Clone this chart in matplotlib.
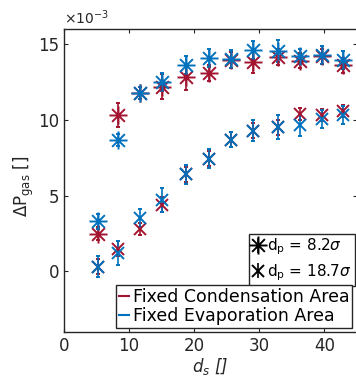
import matplotlib
matplotlib.use("Agg")
import matplotlib.pyplot as plt
import numpy as np
from matplotlib.path import Path
from matplotlib.lines import Line2D

plt.rcParams['font.family'] = ['DejaVu Sans']

# data (values in units of 1e-3)
ds = [5.2, 8.3, 11.7, 15.1, 18.8, 22.3, 25.7, 29.1, 32.8, 36.2, 39.7, 42.9]

cond_small = [2.5, 10.3, 11.8, 12.2, 12.8, 13.1, 13.95, 13.8, 14.15, 13.9, 14.2, 13.6]
cond_small_err = [0.4, 0.8, 0.4, 0.8, 0.8, 0.5, 0.5, 0.7, 0.5, 0.5, 0.5, 0.5]
evap_small = [3.3, 8.7, 11.8, 12.5, 13.6, 14.1, 14.0, 14.6, 14.55, 14.2, 14.3, 13.95]
evap_small_err = [0.5, 0.4, 0.4, 0.6, 0.6, 0.6, 0.6, 0.6, 0.7, 0.5, 0.6, 0.6]

cond_large = [0.3, 1.5, 2.8, 4.4, 6.4, 7.45, 8.7, 9.3, 9.5, 10.4, 10.3, 10.6]
cond_large_err = [0.5, 0.5, 0.4, 0.5, 0.5, 0.5, 0.5, 0.5, 0.5, 0.4, 0.4, 0.4]
evap_large = [0.3, 1.2, 3.5, 4.7, 6.4, 7.45, 8.7, 9.3, 9.55, 9.65, 10.05, 10.3]
evap_large_err = [0.7, 0.8, 0.6, 0.8, 0.6, 0.6, 0.5, 0.7, 0.8, 0.7, 0.6, 0.6]

red = '#A2142F'
blue = '#0072BD'

# MATLAB-like asterisk marker
ast = Path([(-1, 0), (1, 0), (0, -1), (0, 1),
            (-0.707, -0.707), (0.707, 0.707), (-0.707, 0.707), (0.707, -0.707)],
           [Path.MOVETO, Path.LINETO] * 4)

fig = plt.figure(figsize=(3.56, 3.81), dpi=100)
ax = fig.add_axes([64/356, 1-332/381, (357-64)/356, (332-29)/381])

kw = dict(linestyle='none', capsize=1.5, elinewidth=1.2, markeredgewidth=1.4,
          markerfacecolor='none')
ax.errorbar(ds, cond_small, yerr=cond_small_err, marker=ast, markersize=13, color=red, **kw)
ax.errorbar(ds, cond_large, yerr=cond_large_err, marker='x', markersize=9, color=red, **kw)
ax.errorbar(ds, evap_small, yerr=evap_small_err, marker=ast, markersize=13, color=blue, **kw)
ax.errorbar(ds, evap_large, yerr=evap_large_err, marker='x', markersize=9, color=blue, **kw)

ax.set_xlim(0, 45)
ax.set_ylim(-4, 16)
ax.set_xticks([0, 10, 20, 30, 40])
ax.set_yticks([0, 5, 10, 15])
ax.tick_params(direction='in', top=True, right=True, labelsize=12, length=3,
               color='#262626', labelcolor='#262626', width=0.8)
for s in ax.spines.values():
    s.set_color('#262626')
    s.set_linewidth(1.0)

ax.set_xlabel(r'$d_s$ []', fontsize=12, style='italic', color='#262626', labelpad=1)
ax.set_ylabel(r'ΔP$_{\rm gas}$ []', fontsize=12, color='#262626')
ax.yaxis.set_label_coords(-0.095, 0.48)
ax.text(0.0, 1.005, r'$\times10^{-3}$', transform=ax.transAxes, fontsize=10,
        color='#262626', ha='left', va='bottom')

# legend 1: marker types
h1 = ax.errorbar([], [], yerr=[], marker=ast, markersize=13, color='k', **kw)
h2 = ax.errorbar([], [], yerr=[], marker='x', markersize=9, color='k', **kw)
leg1 = ax.legend([h1, h2], [r'd$_{\rm p}$ = 8.2$\sigma$', r'd$_{\rm p}$ = 18.7$\sigma$'],
                 loc='upper right', bbox_to_anchor=(0.993, 0.324), fontsize=11,
                 frameon=True, fancybox=False, edgecolor='#262626', framealpha=1,
                 handlelength=0.8, handletextpad=0.2, borderpad=0.2,
                 labelspacing=0.3, borderaxespad=0)
leg1.get_frame().set_linewidth(1.0)
ax.add_artist(leg1)

l1 = Line2D([], [], color=red, lw=1.5)
l2 = Line2D([], [], color=blue, lw=1.5)
leg2 = ax.legend([l1, l2], ['Fixed Condensation Area', 'Fixed Evaporation Area'],
                 loc='upper right', bbox_to_anchor=(0.983, 0.155), fontsize=12.5,
                 frameon=True, fancybox=False, edgecolor='#262626', framealpha=1,
                 handlelength=0.6, handletextpad=0.2, borderpad=0.15,
                 labelspacing=0.1, borderaxespad=0)
leg2.get_frame().set_linewidth(1.0)

fig.savefig('out.png', dpi=100)
